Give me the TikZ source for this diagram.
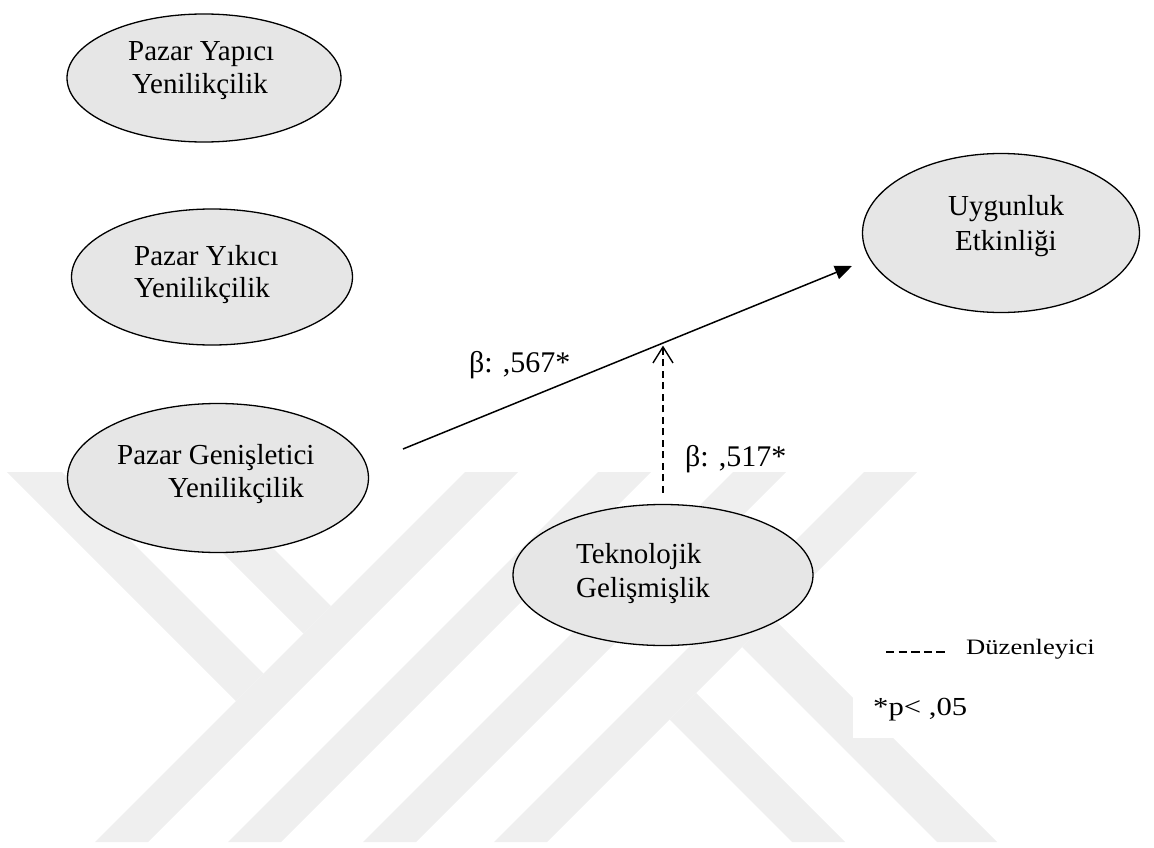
\documentclass[tikz,border=0pt]{standalone}
\usepackage{fontspec}
\setmainfont{Liberation Serif}
\usetikzlibrary{arrows.meta,shapes.geometric}
\definecolor{ovalfill}{RGB}{230,230,230}
\definecolor{markgray}{RGB}{239,239,239}
\begin{document}
\begin{tikzpicture}[x=1pt,y=-1pt,
  oval/.style={ellipse, draw=black, line width=1.3pt, fill=ovalfill, inner sep=0pt},
  txt/.style={anchor=base west, inner sep=0pt, font=\fontsize{29}{34}\selectfont},
  coef/.style={anchor=base west, inner sep=0pt, font=\fontsize{30}{36}\selectfont},
  path/.style={line width=1.5pt, -{Triangle[length=17pt,width=14pt]}},
  modline/.style={line width=1.4pt, dash pattern=on 7pt off 4.5pt,
    -{Straight Barb[length=16pt,width=20pt,line width=1.4pt]}, shorten >=3pt},
  legdash/.style={line width=1.3pt, dash pattern=on 8.3pt off 4.3pt},
  band/.style={fill=markgray, draw=none}
]
\useasboundingbox (0,0) rectangle (1154,848);

% background emblem: diagonal bands
\fill[band] (465,472) -- (518,472) -- (148,842) -- (95,842) -- cycle;
\fill[band] (598,472) -- (651,472) -- (281,842) -- (228,842) -- cycle;
\fill[band] (733,472) -- (786,472) -- (416,842) -- (363,842) -- cycle;
\fill[band] (864,472) -- (917,472) -- (547,842) -- (494,842) -- cycle;
\fill[band] (7,472) -- (62,472) -- (263.5,673.5) -- (236,701) -- cycle;
\fill[band] (142,472) -- (197,472) -- (331,606) -- (303.5,633.5) -- cycle;
\fill[band] (669.5,719.5) -- (696,693) -- (845,842) -- (792,842) -- cycle;
\fill[band] (742,647) -- (772,617) -- (997,842) -- (937,842) -- cycle;
% blank panel behind the legend
\fill[white] (853,610) rectangle (1154,738);

% constructs
\node[oval, minimum width=274pt, minimum height=128pt] (py) at (204,78) {};
\node[oval, minimum width=281pt, minimum height=136pt] (pyk) at (212,277) {};
\node[oval, minimum width=301pt, minimum height=149pt] (pg) at (218,478) {};
\node[oval, minimum width=300pt, minimum height=141pt] (tg) at (663,575) {};
\node[oval, minimum width=277pt, minimum height=159pt] (ue) at (1001,233) {};

% construct names
\node[txt] (py1) at (128,61) {Pazar Yapıcı};
\node[txt] (py2) at (132,94) {Yenilikçilik};
\node[txt] (pyk1) at (134,265) {Pazar Yıkıcı};
\node[txt] (pyk2) at (134,297) {Yenilikçilik};
\node[txt] (pg1) at (117,464) {Pazar Genişletici};
\node[txt] (pg2) at (168,497) {Yenilikçilik};
\node[txt] (tg1) at (576,563) {Teknolojik};
\node[txt] (tg2) at (576,597) {Gelişmişlik};
\node[txt] (ue1) at (948,215) {Uygunluk};
\node[txt] (ue2) at (955,250) {Etkinliği};

% main effect and moderation
\coordinate (pgout) at (403,449);
\coordinate (uein) at (852,266);
\draw[path] (pgout) -- (uein);
\path (pgout) -- (uein) coordinate[pos=0.5813] (mod);
\draw[modline] ([yshift=11pt]tg.north) -- (tg.north |- mod);

\node[coef] (b1) at (469,372) {β: ,567*};
\node[coef] (b2) at (685,466) {β: ,517*};

% legend
\coordinate (lega) at (886,652);
\coordinate (legb) at (945,652);
\draw[legdash] (lega) -- (legb);
\node[anchor=base west, inner sep=0pt, font=\fontsize{22}{26}\selectfont] (legtxt) at (966,654) {\scalebox{1.21}[1]{Düzenleyici}};
\node[anchor=base west, inner sep=0pt, font=\fontsize{26}{30}\selectfont] (pnote) at (873,715) {\scalebox{1.18}[1]{*p< ,05}};
\end{tikzpicture}
\end{document}
